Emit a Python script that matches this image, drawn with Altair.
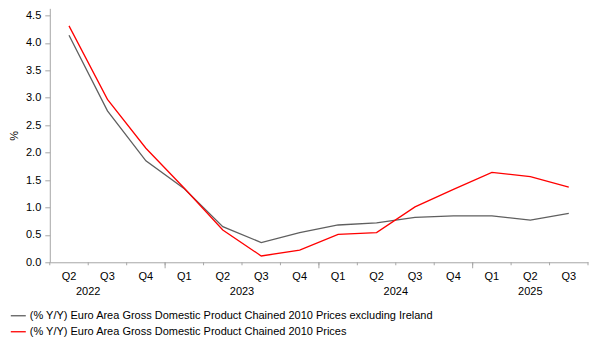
import altair as alt
import pandas as pd

quarters = ["Q2", "Q3", "Q4", "Q1", "Q2", "Q3", "Q4", "Q1", "Q2", "Q3", "Q4", "Q1", "Q2", "Q3"]
years = [2022, 2022, 2022, 2023, 2023, 2023, 2023, 2024, 2024, 2024, 2024, 2025, 2025, 2025]

ex_ireland_label = "(% Y/Y) Euro Area Gross Domestic Product Chained 2010 Prices excluding Ireland"
ea_label = "(% Y/Y) Euro Area Gross Domestic Product Chained 2010 Prices"

ex_ireland = [4.14, 2.76, 1.85, 1.34, 0.65, 0.36, 0.54, 0.68, 0.72, 0.82, 0.845, 0.845, 0.77, 0.89]
euro_area = [4.31, 2.97, 2.08, 1.35, 0.59, 0.115, 0.22, 0.51, 0.54, 1.01, 1.33, 1.64, 1.56, 1.37]

year_labels = ["2022", "2023", "2024", "2025"]
year_centers = [0.5, 4.5, 8.5, 12.0]

idx = list(range(len(quarters)))
rows = []
for i in idx:
    rows.append({"idx": i, "series": ex_ireland_label, "value": ex_ireland[i], "order": 0})
    rows.append({"idx": i, "series": ea_label, "value": euro_area[i], "order": 1})
df = pd.DataFrame(rows)

qdf = pd.DataFrame({"idx": idx, "q": quarters})
ydf = pd.DataFrame({"pos": year_centers, "year": year_labels})
bounds = [i - 0.5 for i in range(len(quarters) + 1)]
major = [b for b in bounds if 0 < b < len(quarters) - 1 and years[int(b - 0.5)] != years[int(b + 0.5)]]
minor_df = pd.DataFrame({"b": bounds})
major_df = pd.DataFrame({"b": major})

FONT = "Liberation Sans"
AX = "#a6a6a6"

xscale = alt.Scale(domain=[-0.5, len(quarters) - 0.5], nice=False, zero=False)
xaxis = alt.Axis(values=bounds, labels=False, ticks=False, grid=False, domainColor=AX, title=None)

lines = alt.Chart(df).mark_line(strokeWidth=1.3).encode(
    x=alt.X("idx:Q", scale=xscale, axis=xaxis),
    y=alt.Y("value:Q",
            scale=alt.Scale(domain=[0, 4.63], nice=False),
            axis=alt.Axis(values=[i * 0.5 for i in range(10)], format=".1f", grid=False,
                          tickSize=5, tickColor=AX, domainColor=AX, labelPadding=4,
                          labelFontSize=11, labelColor="#000000", title="%",
                          titleFontSize=11, titleFontWeight="normal", titleColor="#000000",
                          titlePadding=6)),
    color=alt.Color("series:N",
                    scale=alt.Scale(domain=[ex_ireland_label, ea_label], range=["#5f5f5f", "#ff0000"]),
                    legend=alt.Legend(title=None, orient="none", legendX=-40, legendY=299,
                                      direction="vertical", symbolType="stroke", symbolSize=225,
                                      symbolStrokeWidth=1.3, labelFontSize=11, labelLimit=700,
                                      labelColor="#000000", labelOffset=3, rowPadding=2, padding=0)),
    order="order:Q",
)

minor_ticks = alt.Chart(minor_df).mark_rule(color=AX, strokeWidth=1).encode(
    x=alt.X("b:Q", scale=xscale), y=alt.value(254), y2=alt.value(257)
)
major_ticks = alt.Chart(major_df).mark_rule(color=AX, strokeWidth=1).encode(
    x=alt.X("b:Q", scale=xscale), y=alt.value(254), y2=alt.value(260)
)
qlabels = alt.Chart(qdf).mark_text(fontSize=11, baseline="middle", color="#000000").encode(
    x=alt.X("idx:Q", scale=xscale), y=alt.value(268.7), text="q:N"
)
ylabels = alt.Chart(ydf).mark_text(fontSize=11, baseline="middle", color="#000000").encode(
    x=alt.X("pos:Q", scale=xscale), y=alt.value(283.5), text="year:N"
)

chart = alt.layer(lines, minor_ticks, major_ticks, qlabels, ylabels).properties(
    width=538.4, height=254,
    autosize=alt.AutoSizeParams(type="none"),
    padding={"left": 49.8, "top": 8.3, "right": 15, "bottom": 90},
).configure(font=FONT).configure_view(stroke=None).configure_axis(labelFont=FONT, titleFont=FONT)

chart.save("out.html", embed_options={"renderer": "svg", "actions": False})
